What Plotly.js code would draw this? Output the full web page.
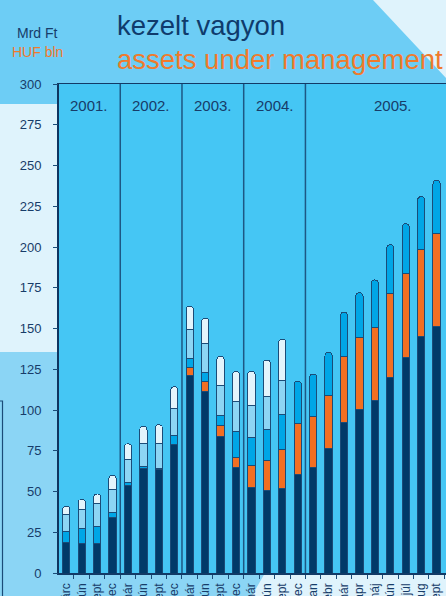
<!DOCTYPE html>
<html>
<head>
<meta charset="utf-8">
<script src="https://cdn.plot.ly/plotly-3.0.1.min.js"></script>
<style>
  html, body { margin: 0; padding: 0; background: #dff3fc; }
  #chart { width: 446px; height: 596px; }
</style>
</head>
<body>
<div id="chart"></div>
<script>
// Year groups and the month of each reading
const years = ['2001.', '2002.', '2003.', '2004.', '2005.'];
const yearCounts = [4, 4, 4, 4, 9];
const months = [
  'márc', 'jún', 'szept', 'dec',
  'már', 'jún', 'szept', 'dec',
  'már', 'jún', 'szept', 'dec',
  'már', 'jún', 'szept', 'dec',
  'jan', 'febr', 'már', 'ápr', 'máj', 'jún', 'júl', 'aug', 'szept'
];

// Stacked components, Mrd Ft (bottom to top)
const navyPart = [18.8, 17.8, 18.2, 34.2, 53.8, 64.2, 63.2, 79.0, 120.9, 111.5, 83.6, 64.6,
  52.3, 50.9, 51.7, 60.7, 64.6, 76.3, 92.4, 100.2, 105.7, 119.8, 132.3, 145.0, 151.1];
const orangePart = [null, null, null, null, null, null, null, null, 5.3, 6.1, 6.6, 6.1,
  13.5, 18.4, 24.0, 31.3, 31.7, 32.7, 40.7, 44.4, 45.0, 51.6, 51.3, 53.4, 57.3];
const bluePart = [6.4, 9.2, 10.6, 3.2, 1.6, 1.0, 1.0, 5.2, 5.5, 5.5, 6.7, 16.0,
  17.5, 18.9, 21.7, 25.8, 25.8, 26.4, 27.0, 27.4, 29.1, 30.0, 30.7, 32.5, 32.5];
const lightPart = [10.8, 12.1, 14.0, 14.1, 14.3, 14.4, 15.4, 16.8, 17.4, 17.4, 18.4, 18.8,
  19.6, 19.8, 21.0, null, null, null, null, null, null, null, null, null, null];
const palePart = [5.1, 6.1, 5.7, 8.4, 9.6, 10.4, 11.4, 13.3, 14.7, 15.9, 17.8, 18.2,
  21.0, 22.7, 25.0, null, null, null, null, null, null, null, null, null, null];

const yTicks = [0, 25, 50, 75, 100, 125, 150, 175, 200, 225, 250, 275, 300];

const idx = months.map((_, i) => i);
const NAVY_TXT = '#173c69';
const ORANGE_TXT = '#f07a2c';
const FONT = 'Liberation Sans, Arial, sans-serif';
const X_RANGE = [-0.47, 24.61];

// figure geometry (pixels) used for paper-space decorations
const W = 446, H = 596, ML = 59, MR = 0, MT = 84, MB = 23;
const PW = W - ML - MR, PH = H - MT - MB;
const px = x => (x - ML) / PW;
const py = y => (H - MB - y) / PH;
const pathOf = pts => 'M' + pts.map(p => px(p[0]).toFixed(4) + ',' + py(p[1]).toFixed(4)).join(' L') + ' Z';

function part(name, values, color) {
  return {
    type: 'bar', name: name, x: idx, y: values, width: 0.47,
    marker: { color: color, line: { color: '#1b4c78', width: 1 } },
    hoverinfo: 'skip'
  };
}

const traces = [
  part('navy', navyPart, '#013a68'),
  part('orange', orangePart, '#f26f22'),
  part('blue', bluePart, '#00a6e6'),
  part('light', lightPart, '#8dd5f4'),
  part('pale', palePart, '#e3f4fc'),
  // carries the short visible tick marks of the value axis
  { type: 'scatter', x: [], y: [], yaxis: 'y2', hoverinfo: 'skip' }
];

// background panels and plot fill
const shapes = [
  { type: 'path', xref: 'paper', yref: 'paper', layer: 'below', line: { width: 0 }, fillcolor: '#6dcdf5',
    path: pathOf([[0, 0], [373, 0], [446, 78], [446, 104], [0, 104]]) },
  { type: 'path', xref: 'paper', yref: 'paper', layer: 'below', line: { width: 0 }, fillcolor: '#8bd5f5',
    path: pathOf([[0, 352], [59, 352], [59, 573], [265, 573], [251.7, 596], [0, 596]]) },
  { type: 'rect', xref: 'paper', yref: 'paper', layer: 'below', line: { width: 0 }, fillcolor: '#45c6f4',
    x0: 0, x1: 1, y0: 0, y1: 1 },
  { type: 'path', xref: 'paper', yref: 'paper', layer: 'below', fillcolor: 'rgba(0,0,0,0)',
    line: { color: '#1b4c78', width: 1.2 },
    path: 'M' + px(0) + ',' + py(401) + ' L' + px(2.5) + ',' + py(401) + ' L' + px(2.5) + ',' + py(600) }
];

// dividers between the years
let acc = 0;
yearCounts.slice(0, -1).forEach(c => {
  acc += c;
  shapes.push({ type: 'line', xref: 'x', yref: 'paper', x0: acc - 0.5, x1: acc - 0.5, y0: 0, y1: 1,
    line: { color: '#1d5784', width: 1.5 }, layer: 'above' });
});

// year captions
const annotations = [];
let start = 0;
years.forEach((yr, k) => {
  const c = yearCounts[k];
  const centre = k === years.length - 1 ? start + 5.2 : start + (c - 1) / 2;
  annotations.push({ text: yr, x: centre, y: 287, xref: 'x', yref: 'y', showarrow: false,
    font: { family: FONT, size: 15, color: NAVY_TXT } });
  start += c;
});

annotations.push(
  { text: 'kezelt vagyon', xref: 'paper', yref: 'paper', x: px(115), y: py(25), xanchor: 'left', yanchor: 'middle',
    showarrow: false, font: { family: FONT, size: 27.5, color: '#0f3b6c' } },
  { text: 'assets under management', xref: 'paper', yref: 'paper', x: px(115), y: py(59), xanchor: 'left', yanchor: 'middle',
    showarrow: false, font: { family: FONT, size: 27.5, color: ORANGE_TXT } },
  { text: 'Mrd Ft', xref: 'paper', yref: 'paper', x: px(37.5), y: py(33), xanchor: 'center', yanchor: 'middle',
    showarrow: false, font: { family: FONT, size: 14, color: NAVY_TXT } },
  { text: 'HUF bln', xref: 'paper', yref: 'paper', x: px(37.5), y: py(52), xanchor: 'center', yanchor: 'middle',
    showarrow: false, font: { family: FONT, size: 14, color: ORANGE_TXT } }
);

const layout = {
  width: W, height: H,
  margin: { l: ML, r: MR, t: MT, b: MB, pad: 0 },
  paper_bgcolor: '#dff3fc',
  plot_bgcolor: 'rgba(0,0,0,0)',
  barmode: 'stack',
  barcornerradius: '50%',
  showlegend: false,
  xaxis: {
    range: X_RANGE, fixedrange: true,
    tickmode: 'array', tickvals: idx, ticktext: months, tickangle: -90,
    ticks: 'outside', ticklen: 4, tickcolor: 'rgba(0,0,0,0)',
    tickfont: { family: FONT, size: 12, color: NAVY_TXT },
    minor: { tickmode: 'linear', tick0: 0.5, dtick: 1, ticks: 'outside', ticklen: 4, tickcolor: '#1b4c78', showgrid: false },
    showgrid: false, zeroline: false,
    showline: true, linecolor: '#123a66', linewidth: 1.5, mirror: true
  },
  yaxis: {
    range: [0, 300], fixedrange: true,
    tickmode: 'array', tickvals: yTicks,
    ticks: 'outside', ticklen: 13, tickcolor: 'rgba(0,0,0,0)',
    tickfont: { family: FONT, size: 13, color: NAVY_TXT },
    showgrid: false, zeroline: false,
    showline: true, linecolor: '#0f3560', linewidth: 2
  },
  yaxis2: {
    overlaying: 'y', side: 'left', range: [0, 300], fixedrange: true,
    tickmode: 'array', tickvals: yTicks, showticklabels: false,
    ticks: 'outside', ticklen: 5, tickcolor: '#1b4c78', tickwidth: 1,
    showgrid: false, zeroline: false, showline: false
  },
  shapes: shapes,
  annotations: annotations
};

Plotly.newPlot('chart', traces, layout, { displayModeBar: false, staticPlot: true });
</script>
</body>
</html>
